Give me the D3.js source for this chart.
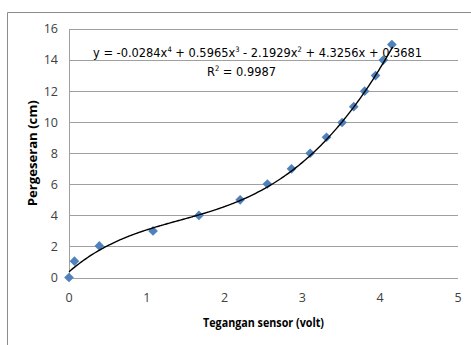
<!DOCTYPE html>
<html>
<head>
<meta charset="utf-8">
<script src="https://cdn.jsdelivr.net/npm/d3@7"></script>
<style>
  body { margin: 0; background: #fff; }
  svg { display: block; }
  text { font-family: "Open Sans", "DejaVu Sans", sans-serif; }
  .eq { font-family: "Liberation Sans Narrow", "DejaVu Sans Condensed", sans-serif; }
</style>
</head>
<body>
<script>
// data
var voltage = [0, 0.07, 0.39, 1.08, 1.67, 2.2, 2.55, 2.86, 3.1, 3.31, 3.51, 3.66, 3.8, 3.94, 4.04, 4.15];
var shift   = [0, 1.05, 2.03, 3.0, 4.0, 5.0, 6.02, 7.0, 8.0, 9.03, 9.98, 11.0, 12.0, 13.0, 14.0, 15.0];
// trendline coefficients (x^4 .. x^0)
var coef = [-0.0284, 0.5965, -2.1929, 4.3256, 0.3681];
var rSquared = 0.9987;
var xTicks = [0, 1, 2, 3, 4, 5];
var yTicks = [0, 2, 4, 6, 8, 10, 12, 14, 16];

var width = 471, height = 345;
var svg = d3.select("body").append("svg")
    .attr("width", width)
    .attr("height", height);

// outer chart border
svg.append("path")
    .attr("d", "M7.5," + height + "V12.5H" + width)
    .attr("fill", "none")
    .attr("stroke", "#8c8c8c")
    .attr("stroke-width", 1);

var x = d3.scaleLinear().domain([0, 5]).range([69, 458]);
var y = d3.scaleLinear().domain([0, 16]).range([277.5, 29]);

// gridlines
svg.append("g").selectAll("line")
    .data(yTicks)
    .enter().append("line")
    .attr("x1", x(0)).attr("x2", x(5))
    .attr("y1", function(d) { return Math.round(y(d)) + 0.5; })
    .attr("y2", function(d) { return Math.round(y(d)) + 0.5; })
    .attr("stroke", "#a0a0a0")
    .attr("stroke-width", 1);

// y axis line
svg.append("line")
    .attr("x1", x(0) + 0.5).attr("x2", x(0) + 0.5)
    .attr("y1", y(16)).attr("y2", y(0))
    .attr("stroke", "#a0a0a0");

// tick labels
svg.append("g").selectAll("text")
    .data(yTicks)
    .enter().append("text")
    .attr("x", 58)
    .attr("y", function(d) { return y(d); })
    .attr("dy", "0.35em")
    .attr("text-anchor", "end")
    .attr("font-size", 12.5)
    .attr("fill", "#404040")
    .text(function(d) { return d; });

svg.append("g").selectAll("text")
    .data(xTicks)
    .enter().append("text")
    .attr("x", function(d) { return x(d); })
    .attr("y", 298)
    .attr("dy", "0.35em")
    .attr("text-anchor", "middle")
    .attr("font-size", 12.5)
    .attr("fill", "#404040")
    .text(function(d) { return d; });

// axis titles
svg.append("text")
    .attr("x", (x(0) + x(5)) / 2)
    .attr("y", 323)
    .attr("dy", "0.35em")
    .attr("text-anchor", "middle")
    .attr("font-size", 12)
    .attr("font-weight", "bold")
    .attr("textLength", 121)
    .attr("lengthAdjust", "spacingAndGlyphs")
    .attr("fill", "#000")
    .text("Tegangan sensor (volt)");

svg.append("text")
    .attr("transform", "translate(33," + ((y(0) + y(16)) / 2) + ") rotate(-90)")
    .attr("dy", "0.35em")
    .attr("text-anchor", "middle")
    .attr("font-size", 12)
    .attr("font-weight", "bold")
    .attr("textLength", 106)
    .attr("lengthAdjust", "spacingAndGlyphs")
    .attr("fill", "#000")
    .text("Pergeseran (cm)");

// polynomial trendline
function poly(v) {
  return coef.reduce(function(acc, c) { return acc * v + c; }, 0);
}
var curveX = d3.range(0, 4.1701, 0.02);
var line = d3.line()
    .x(function(d) { return x(d); })
    .y(function(d) { return y(poly(d)); })
    .curve(d3.curveMonotoneX);

// markers
var diamond = d3.symbol().type(d3.symbolDiamond2).size(60);
svg.append("g").selectAll("path")
    .data(voltage)
    .enter().append("path")
    .attr("transform", function(d, i) { return "translate(" + x(d) + "," + y(shift[i]) + ")"; })
    .attr("d", diamond)
    .attr("fill", "#4f81bd");

svg.append("path")
    .datum(curveX)
    .attr("d", line)
    .attr("fill", "none")
    .attr("stroke", "#000")
    .attr("stroke-width", 1.4);

// trendline label
function fmt(c) { return Math.abs(c).toFixed(4); }
function sign(c) { return c < 0 ? " - " : " + "; }
var eq = svg.append("text")
    .attr("class", "eq")
    .attr("x", 93)
    .attr("y", 56.5)
    .attr("font-size", 12.7)
    .attr("fill", "#000");
eq.append("tspan").text("y = " + (coef[0] < 0 ? "-" : "") + fmt(coef[0]) + "x");
eq.append("tspan").attr("font-size", 7.5).attr("dy", -5).text("4");
eq.append("tspan").attr("dy", 5).text(sign(coef[1]) + fmt(coef[1]) + "x");
eq.append("tspan").attr("font-size", 7.5).attr("dy", -5).text("3");
eq.append("tspan").attr("dy", 5).text(sign(coef[2]) + fmt(coef[2]) + "x");
eq.append("tspan").attr("font-size", 7.5).attr("dy", -5).text("2");
eq.append("tspan").attr("dy", 5).text(sign(coef[3]) + fmt(coef[3]) + "x" + sign(coef[4]) + fmt(coef[4]));

var r2 = svg.append("text")
    .attr("class", "eq")
    .attr("x", 207)
    .attr("y", 75.5)
    .attr("font-size", 12.7)
    .attr("fill", "#000");
r2.append("tspan").text("R");
r2.append("tspan").attr("font-size", 7.5).attr("dy", -5).text("2");
r2.append("tspan").attr("dy", 5).text(" = " + rSquared.toFixed(4));
</script>
</body>
</html>
